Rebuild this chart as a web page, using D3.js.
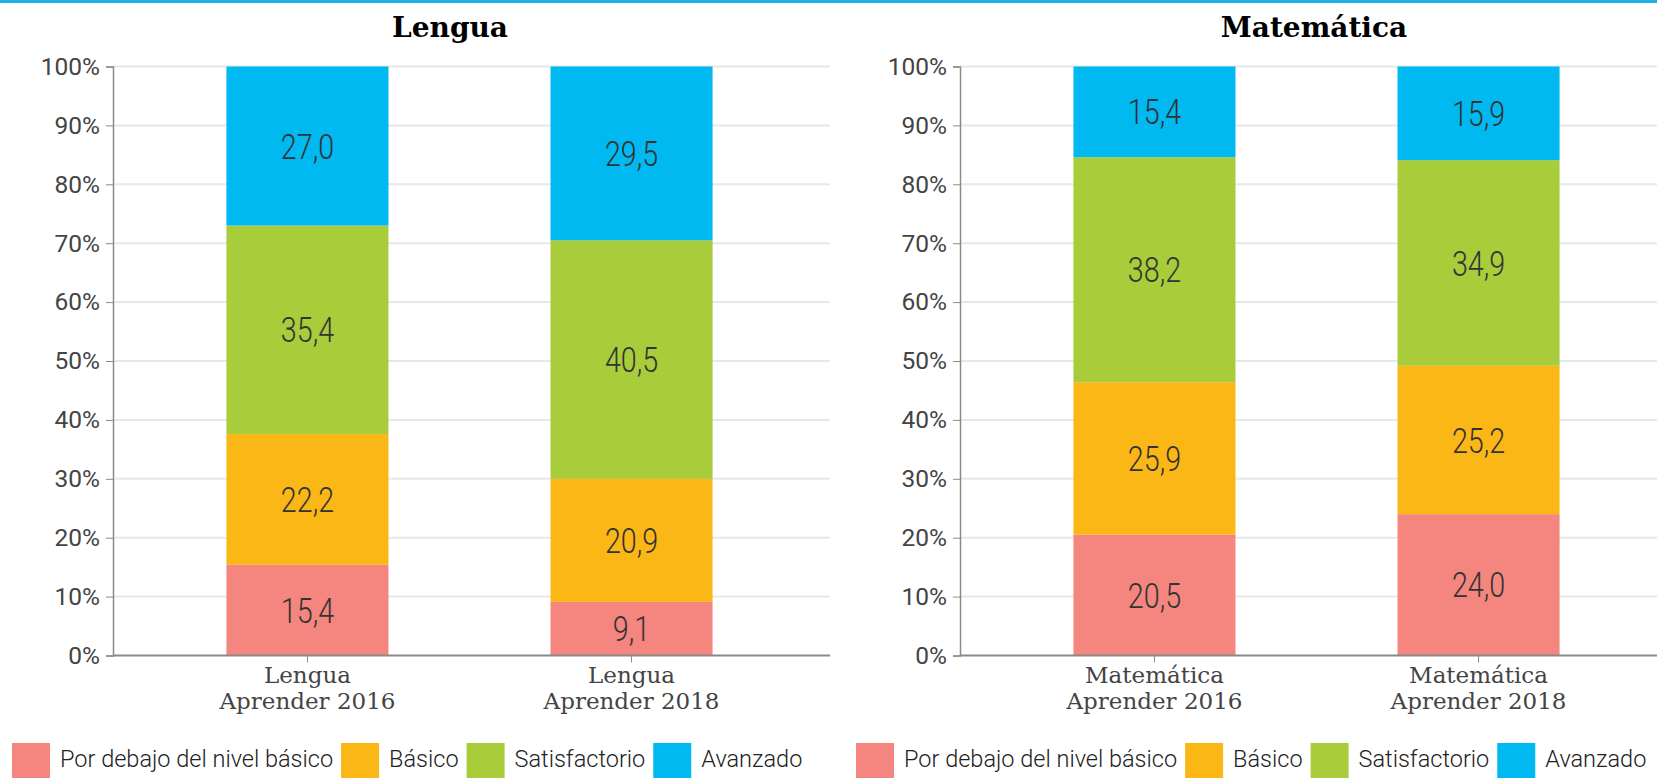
<!DOCTYPE html>
<html>
<head>
<meta charset="utf-8">
<script src="https://cdn.jsdelivr.net/npm/d3@7"></script>
<style>
  body { margin: 0; background: #fff; }
  svg { display: block; }
</style>
</head>
<body>
<div id="chart"></div>
<script>
// data
const levels = ["Por debajo del nivel básico", "Básico", "Satisfactorio", "Avanzado"];
const levelColors = ["#f4857f", "#fbb715", "#a8cc3a", "#00b9f1"];
const yTicks = [0, 10, 20, 30, 40, 50, 60, 70, 80, 90, 100];

const lenguaCats = ["Lengua|Aprender 2016", "Lengua|Aprender 2018"];
const lengua2016 = [15.4, 22.2, 35.4, 27.0];
const lengua2018 = [9.1, 20.9, 40.5, 29.5];

const mateCats = ["Matemática|Aprender 2016", "Matemática|Aprender 2018"];
const mate2016 = [20.5, 25.9, 38.2, 15.4];
const mate2018 = [24.0, 25.2, 34.9, 15.9];

const W = 1657, H = 778;
const sx = 0.82; // squeeze for the condensed number font
const slab = "'DejaVu Serif', 'Liberation Serif', serif";

const svg = d3.select("#chart").append("svg")
    .attr("width", W)
    .attr("height", H);

// top blue rule
svg.append("rect")
    .attr("x", 0).attr("y", 0)
    .attr("width", W).attr("height", 3)
    .attr("fill", "#1fb2e8");

const y = d3.scaleLinear().domain([0, 100]).range([655.5, 66.5]);

function panel(title, cats, series, axisX, gridEnd, legendX, titleX) {
    const g = svg.append("g");
    const x = d3.scaleBand()
        .domain(cats)
        .range([axisX, axisX + 713])
        .paddingInner(0.5)
        .paddingOuter(0.35);

    // grid
    g.append("g").selectAll("line")
        .data(yTicks.filter(d => d > 0))
        .join("line")
        .attr("x1", axisX).attr("x2", gridEnd)
        .attr("y1", d => y(d)).attr("y2", d => y(d))
        .attr("stroke", "#e8e8e8")
        .attr("stroke-width", 2);

    // stacked bars
    cats.forEach((c, i) => {
        const vals = series[i];
        let acc = 0;
        vals.forEach((v, k) => {
            const y0 = acc, y1 = acc + v;
            acc = y1;
            g.append("rect")
                .attr("x", x(c))
                .attr("width", x.bandwidth())
                .attr("y", y(y1))
                .attr("height", y(y0) - y(y1))
                .attr("fill", levelColors[k]);
            g.append("text")
                .attr("transform", `scale(${sx},1)`)
                .attr("x", (x(c) + x.bandwidth() / 2) / sx)
                .attr("y", y((y0 + y1) / 2))
                .attr("dy", "0.36em")
                .attr("text-anchor", "middle")
                .style("font-family", "Roboto, sans-serif")
                .style("font-weight", 300)
                .style("font-size", "35px")
                .attr("fill", "#333")
                .text(v.toFixed(1).replace(".", ","));
        });
    });

    // y axis
    const ya = g.append("g")
        .attr("transform", `translate(${axisX},0)`)
        .call(d3.axisLeft(y).tickValues(yTicks).tickSize(7).tickPadding(6).tickFormat(d => d + "%"));
    ya.select(".domain").attr("stroke", "#8a8a8a").attr("stroke-width", 1.5);
    ya.selectAll(".tick line").attr("stroke", "#8a8a8a");
    ya.selectAll(".tick text")
        .style("font-family", "Roboto, sans-serif")
        .style("font-size", "24.5px")
        .attr("fill", "#444");

    // x axis
    const xa = g.append("g")
        .attr("transform", `translate(0,${y(0)})`)
        .call(d3.axisBottom(x).tickSize(7).tickFormat(""));
    xa.select(".domain").remove();
    xa.selectAll(".tick line").attr("stroke", "#8a8a8a");
    g.append("line")
        .attr("x1", axisX).attr("x2", gridEnd)
        .attr("y1", y(0)).attr("y2", y(0))
        .attr("stroke", "#8a8a8a").attr("stroke-width", 2);

    cats.forEach(c => {
        const parts = c.split("|");
        const t = g.append("text")
            .attr("text-anchor", "middle")
            .style("font-family", slab)
            .style("font-size", "23px")
            .attr("fill", "#444");
        parts.forEach((p, j) => {
            t.append("tspan")
                .attr("x", x(c) + x.bandwidth() / 2)
                .attr("y", 683 + j * 26)
                .text(p);
        });
    });

    // title
    g.append("text")
        .attr("x", titleX)
        .attr("y", 37)
        .attr("text-anchor", "middle")
        .style("font-family", slab)
        .style("font-weight", "bold")
        .style("font-size", "28px")
        .attr("fill", "#000")
        .text(title);

    // legend
    let lx = legendX;
    levels.forEach((name, k) => {
        g.append("rect")
            .attr("x", lx).attr("y", 743)
            .attr("width", 38).attr("height", 35)
            .attr("fill", levelColors[k]);
        const t = g.append("text")
            .attr("x", lx + 48)
            .attr("y", 767)
            .style("font-family", "Roboto, sans-serif")
            .style("font-weight", 300)
            .style("font-size", "23.5px")
            .attr("fill", "#222")
            .text(name);
        lx += 48 + t.node().getComputedTextLength() + 8;
    });
}

panel("Lengua", lenguaCats, [lengua2016, lengua2018], 113, 830, 12, 450);
panel("Matemática", mateCats, [mate2016, mate2018], 960, W, 856, 1314);
</script>
</body>
</html>
